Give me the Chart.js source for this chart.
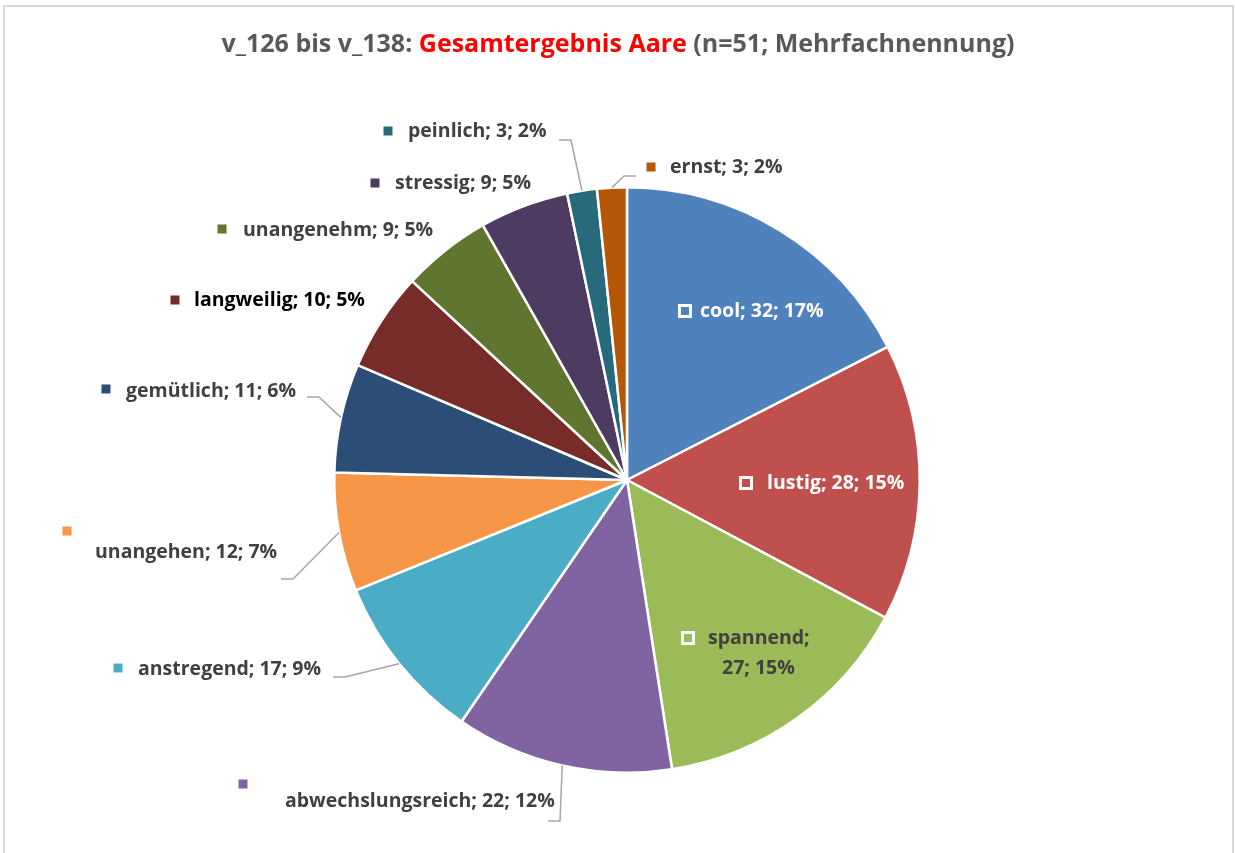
<!DOCTYPE html>
<html>
<head>
<meta charset="utf-8">
<script src="https://cdn.jsdelivr.net/npm/chart.js@4.4.1/dist/chart.umd.min.js"></script>
<style>
  html, body { margin: 0; padding: 0; background: #ffffff; }
  #wrap { width: 1235px; height: 853px; position: relative; }
</style>
</head>
<body>
<div id="wrap"><canvas id="grafico"></canvas></div>
<script>
// Daten
const kategorien = ['cool', 'lustig', 'spannend', 'abwechslungsreich', 'anstregend', 'unangehen',
    'gemütlich', 'langweilig', 'unangenehm', 'stressig', 'peinlich', 'ernst'];
const anzahl = [32, 28, 27, 22, 17, 12, 11, 10, 9, 9, 3, 3];
const farben = ['#4F81BD', '#C0504D', '#9BBB59', '#8064A2', '#4BACC6', '#F79646',
    '#2C4D75', '#772C2A', '#5F7530', '#4D3B62', '#276A7C', '#B65708'];

const titelTeile = [
    { text: 'v_126 bis v_138: ', farbe: '#595959' },
    { text: 'Gesamtergebnis Aare', farbe: '#FF0000' },
    { text: ' (n=51; Mehrfachnennung)', farbe: '#595959' }
];

// Position der Beschriftungen relativ zur Kreismitte (px)
// t: Textanfang, m: Markierung, l: Ende der Führungslinie
const beschriftung = [
    { t: [[73, -169]], m: [58, -169], innen: true, farbe: '#FFFFFF' },
    { t: [[140, 3]], m: [119, 3], innen: true, farbe: '#FFFFFF' },
    { t: [[81, 158], [95, 188]], m: [61, 158], innen: true, farbe: '#404040' },
    { t: [[-342, 321]], m: [-384, 304], l: [-79, 341] },
    { t: [[-489, 189]], m: [-509, 188], l: [-294, 197] },
    { t: [[-532, 72]], m: [-560, 51], l: [-346, 99] },
    { t: [[-501, -89]], m: [-521, -91], l: [-320, -83] },
    { t: [[-433, -180]], m: [-452, -180], farbe: '#000000' },
    { t: [[-384, -250]], m: [-405, -251] },
    { t: [[-232, -297]], m: [-252, -297] },
    { t: [[-219, -349]], m: [-239, -349], l: [-68, -340] },
    { t: [[43, -313]], m: [24, -313], l: [9, -304] }
];

const summe = anzahl.reduce((a, b) => a + b, 0);

function labelTexte(i) {
    const proz = Math.round(anzahl[i] / summe * 100);
    if (beschriftung[i].t.length > 1) {
        return [`${kategorien[i]};`, `${anzahl[i]}; ${proz}%`];
    }
    return [`${kategorien[i]}; ${anzahl[i]}; ${proz}%`];
}

const schrift = 'bold 19.5px "Open Sans", Lato, sans-serif';

const rahmenPlugin = {
    id: 'rahmen',
    beforeDraw(chart) {
        const ctx = chart.ctx;
        ctx.save();
        ctx.strokeStyle = '#D9D9D9';
        ctx.lineWidth = 2;
        ctx.strokeRect(4, 6, 1229, 860);
        ctx.restore();
    }
};

const titelPlugin = {
    id: 'titel',
    afterDraw(chart) {
        const ctx = chart.ctx;
        ctx.save();
        ctx.font = 'bold 25px "Open Sans", Lato, sans-serif';
        ctx.textBaseline = 'middle';
        const breite = titelTeile.reduce((s, t) => s + ctx.measureText(t.text).width, 0);
        let x = 618 - breite / 2;
        titelTeile.forEach(t => {
            ctx.fillStyle = t.farbe;
            ctx.fillText(t.text, x, 45);
            x += ctx.measureText(t.text).width;
        });
        ctx.restore();
    }
};

const etikettenPlugin = {
    id: 'etiketten',
    afterDatasetsDraw(chart) {
        const ctx = chart.ctx;
        const meta = chart.getDatasetMeta(0);
        ctx.save();
        ctx.font = schrift;
        ctx.textBaseline = 'middle';
        meta.data.forEach((arc, i) => {
            const b = beschriftung[i];
            const cx = arc.x, cy = arc.y;
            const mitte = (arc.startAngle + arc.endAngle) / 2;
            const r = arc.outerRadius;

            // Führungslinie
            if (b.l) {
                const px = cx + Math.cos(mitte) * r;
                const py = cy + Math.sin(mitte) * r;
                const lx = cx + b.l[0], ly = cy + b.l[1];
                const ex = lx + (px > lx ? 12 : -12);
                ctx.strokeStyle = '#A6A6A6';
                ctx.lineWidth = 1.5;
                ctx.beginPath();
                ctx.moveTo(px, py);
                ctx.lineTo(ex, ly);
                ctx.lineTo(lx, ly);
                ctx.stroke();
            }

            // Markierung
            const mx = cx + b.m[0], my = cy + b.m[1];
            if (b.innen) {
                ctx.fillStyle = '#FFFFFF';
                ctx.fillRect(mx - 7, my - 7, 14, 14);
                ctx.fillStyle = farben[i];
                ctx.fillRect(mx - 4, my - 4, 8, 8);
            } else {
                ctx.fillStyle = farben[i];
                ctx.fillRect(mx - 4.5, my - 4.5, 9, 9);
            }

            // Text
            ctx.fillStyle = b.farbe || '#404040';
            labelTexte(i).forEach((z, k) => {
                ctx.fillText(z, cx + b.t[k][0], cy + b.t[k][1]);
            });
        });
        ctx.restore();
    }
};

new Chart(document.getElementById('grafico'), {
    type: 'pie',
    data: {
        labels: kategorien,
        datasets: [{
            data: anzahl,
            backgroundColor: farben,
            borderColor: '#FFFFFF',
            borderWidth: 2.5
        }]
    },
    options: {
        responsive: true,
        maintainAspectRatio: false,
        animation: false,
        layout: {
            padding: { left: 333, right: 314, top: 184, bottom: 77 }
        },
        plugins: {
            legend: { display: false },
            tooltip: { enabled: false },
            title: { display: false }
        }
    },
    plugins: [rahmenPlugin, titelPlugin, etikettenPlugin]
});
</script>
</body>
</html>
